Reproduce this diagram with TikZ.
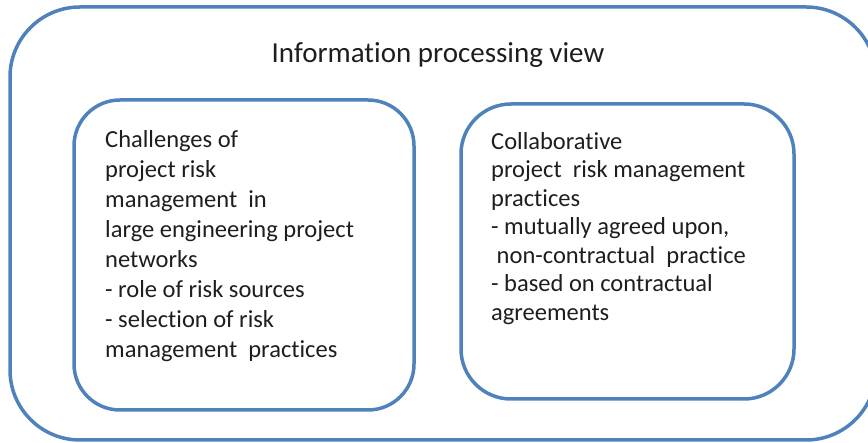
\documentclass[tikz,border=0pt]{standalone}
\usepackage{fontspec}
\setmainfont{Carlito}[Ligatures=CommonOff]
\usetikzlibrary{positioning}

\definecolor{boxblue}{RGB}{79,129,189}
\definecolor{txtgray}{RGB}{30,30,30}

\tikzset{
  roundbox/.style={draw=boxblue, line width=3.5pt, rounded corners=#1},
  bodytext/.style={anchor=north west, inner sep=0pt, align=left, text=txtgray,
    font=\fontsize{24.5}{30}\selectfont},
}

\begin{document}
\begin{tikzpicture}[x=1pt, y=1pt]
  \useasboundingbox (0,0) rectangle (868,443);

  % outer view and the two inner boxes
  \draw[roundbox=70pt] (10,3) rectangle (876,436);
  \draw[roundbox=46pt] (74,33) rectangle (414,343);
  \draw[roundbox=50pt] (461,44) rectangle (794,339);

  \node[text=txtgray, font=\fontsize{29}{34}\selectfont] (title) at (438,388) {Information processing view};

  \node[bodytext] (challenges) at (105,313) {Challenges of\\
    project risk\\
    management\ \ in\\
    large engineering project\\
    networks\\
    - role of risk sources\\
    - selection of risk\\
    management\ \ practices};

  \node[bodytext, font=\fontsize{24.5}{28.5}\selectfont] (practices) at (491,311) {Collaborative\\
    project\ \ risk management\\
    practices\\
    - mutually agreed upon,\\
    \ non-contractual\ \ practice\\
    - based on contractual\\
    agreements};
\end{tikzpicture}
\end{document}
